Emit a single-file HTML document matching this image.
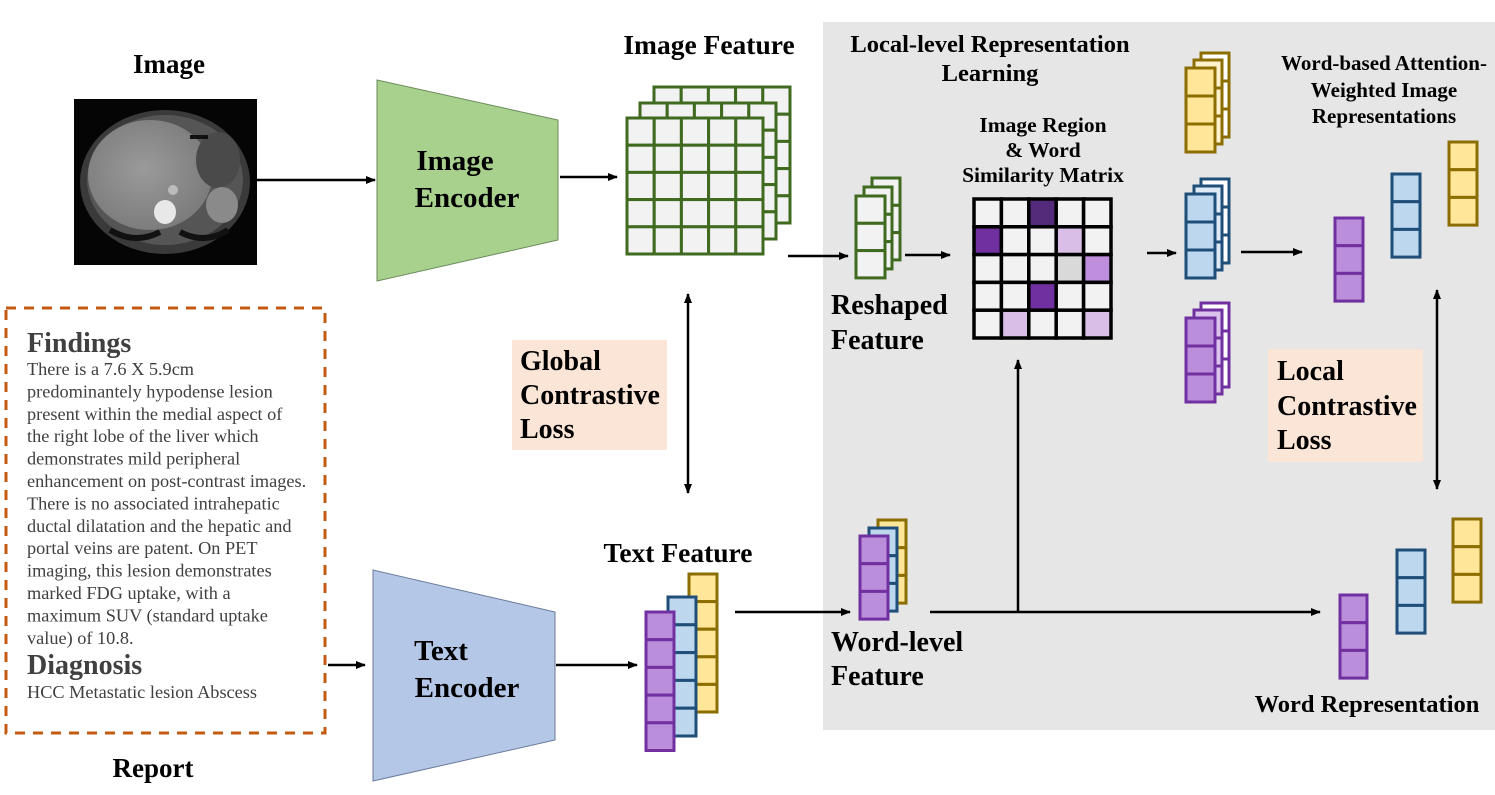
<!DOCTYPE html>
<html><head><meta charset="utf-8"><style>
html,body{margin:0;padding:0;background:#fff;}
svg{display:block;font-family:"Liberation Serif",serif;}
.t{font-weight:bold;fill:#000;}
.r{fill:#404040;font-size:18.3px;}
</style></head><body>
<svg id="s" width="1495" height="795" viewBox="0 0 1495 795" xmlns="http://www.w3.org/2000/svg">
<defs>
<marker id="a" markerWidth="10" markerHeight="8" refX="9" refY="4" orient="auto" markerUnits="userSpaceOnUse"><path d="M0,0 L10,4 L0,8 Z" fill="#000"/></marker>
<marker id="b" markerWidth="10" markerHeight="8" refX="1" refY="4" orient="auto" markerUnits="userSpaceOnUse"><path d="M10,0 L0,4 L10,8 Z" fill="#000"/></marker>
<radialGradient id="liv" cx="0.45" cy="0.45" r="0.6"><stop offset="0" stop-color="#9a9a9a"/><stop offset="1" stop-color="#7a7a7a"/></radialGradient>
</defs>
<rect x="823" y="22" width="672" height="708" fill="#e6e6e6"/>
<!-- CT image -->
<rect x="74" y="99" width="183" height="166" fill="#050505"/>
<ellipse cx="165" cy="182" rx="85" ry="72" fill="#3a3a3a"/>
<ellipse cx="165" cy="180" rx="78" ry="65" fill="#555"/>
<ellipse cx="150" cy="175" rx="62" ry="55" fill="url(#liv)"/>
<ellipse cx="218" cy="160" rx="22" ry="28" fill="#4a4a4a"/>
<ellipse cx="222" cy="205" rx="16" ry="18" fill="#8a8a8a"/>
<ellipse cx="165" cy="212" rx="11" ry="12" fill="#e8e8e8"/>
<circle cx="173" cy="190" r="5" fill="#bbb"/>
<path d="M110 230 Q135 245 160 232 M180 232 Q205 245 228 230" stroke="#111" stroke-width="6" fill="none"/>
<rect x="190" y="135" width="18" height="4" fill="#111"/>
<!-- encoders -->
<polygon points="377,80 558,120 558,240 377,281" fill="#a9d18e" stroke="#6a8a5a" stroke-width="1"/>
<text class="t" x="455" y="170" font-size="29" text-anchor="middle">Image</text>
<text class="t" x="467" y="207" font-size="29" text-anchor="middle">Encoder</text>
<polygon points="373,570 555,612 555,740 373,781" fill="#b4c7e7" stroke="#6a7a9a" stroke-width="1"/>
<text class="t" x="441" y="660" font-size="29" text-anchor="middle">Text</text>
<text class="t" x="467" y="697" font-size="29" text-anchor="middle">Encoder</text>
<!-- labels -->
<text class="t" x="169" y="73" font-size="27" text-anchor="middle">Image</text>
<text class="t" x="709" y="54" font-size="27.5" text-anchor="middle">Image Feature</text>
<text class="t" x="990" y="52" font-size="24.5" text-anchor="middle">Local-level Representation</text>
<text class="t" x="990" y="81" font-size="24.5" text-anchor="middle">Learning</text>
<text class="t" x="1043" y="132" font-size="21.5" text-anchor="middle">Image Region</text>
<text class="t" x="1043" y="157" font-size="21.5" text-anchor="middle">&amp; Word</text>
<text class="t" x="1043" y="182" font-size="21.5" text-anchor="middle">Similarity Matrix</text>
<text class="t" x="1384" y="70" font-size="21" text-anchor="middle">Word-based Attention-</text>
<text class="t" x="1384" y="97" font-size="21" text-anchor="middle">Weighted Image</text>
<text class="t" x="1384" y="123" font-size="21" text-anchor="middle">Representations</text>
<text class="t" x="831" y="314" font-size="28">Reshaped</text>
<text class="t" x="831" y="349" font-size="28">Feature</text>
<text class="t" x="678" y="562" font-size="27.5" text-anchor="middle">Text Feature</text>
<text class="t" x="831" y="651" font-size="28">Word-level</text>
<text class="t" x="831" y="685" font-size="28">Feature</text>
<text class="t" x="1367" y="712" font-size="24.5" text-anchor="middle">Word Representation</text>
<text class="t" x="153" y="777" font-size="27" text-anchor="middle">Report</text>
<!-- loss boxes -->
<rect x="512" y="340" width="155" height="110" fill="#fbe5d6"/>
<text class="t" x="520" y="370" font-size="28">Global</text>
<text class="t" x="520" y="404" font-size="28">Contrastive</text>
<text class="t" x="520" y="438" font-size="28">Loss</text>
<rect x="1268" y="349" width="155" height="113" fill="#fbe5d6"/>
<text class="t" x="1277" y="380" font-size="28">Local</text>
<text class="t" x="1277" y="415" font-size="28">Contrastive</text>
<text class="t" x="1277" y="449" font-size="28">Loss</text>
<!-- report -->
<rect x="6" y="308" width="319" height="425" fill="none" stroke="#c55a11" stroke-width="3" stroke-dasharray="10,8"/>
<text x="27" y="352" font-size="28" font-weight="bold" fill="#404040">Findings</text>
<text class="r" x="27" y="375">There is a 7.6 X 5.9cm</text>
<text class="r" x="27" y="397.4">predominantely hypodense lesion</text>
<text class="r" x="27" y="419.8">present within the medial aspect of</text>
<text class="r" x="27" y="442.2">the right lobe of the liver which</text>
<text class="r" x="27" y="464.6">demonstrates mild peripheral</text>
<text class="r" x="27" y="487">enhancement on post-contrast images.</text>
<text class="r" x="27" y="509.4">There is no associated intrahepatic</text>
<text class="r" x="27" y="531.8">ductal dilatation and the hepatic and</text>
<text class="r" x="27" y="554.2">portal veins are patent. On PET</text>
<text class="r" x="27" y="576.6">imaging, this lesion demonstrates</text>
<text class="r" x="27" y="599">marked FDG uptake, with a</text>
<text class="r" x="27" y="621.4">maximum SUV (standard uptake</text>
<text class="r" x="27" y="643.8">value) of 10.8.</text>
<text x="27" y="674" font-size="28" font-weight="bold" fill="#404040">Diagnosis</text>
<text class="r" x="27" y="698">HCC Metastatic lesion Abscess</text>
<!-- arrows -->
<g stroke="#000" stroke-width="2.5" fill="none">
<line x1="257" y1="180" x2="375" y2="180" marker-end="url(#a)"/>
<line x1="560" y1="177" x2="617" y2="177" marker-end="url(#a)"/>
<line x1="788" y1="256" x2="848" y2="256" marker-end="url(#a)"/>
<line x1="905" y1="255" x2="950" y2="255" marker-end="url(#a)"/>
<line x1="1147" y1="253" x2="1176" y2="253" marker-end="url(#a)"/>
<line x1="1241" y1="252" x2="1302" y2="252" marker-end="url(#a)"/>
<line x1="688" y1="294" x2="688" y2="493" marker-start="url(#b)" marker-end="url(#a)"/>
<line x1="1437" y1="290" x2="1437" y2="489" marker-start="url(#b)" marker-end="url(#a)"/>
<line x1="328" y1="665" x2="365" y2="665" marker-end="url(#a)"/>
<line x1="556" y1="665" x2="637" y2="665" marker-end="url(#a)"/>
<line x1="735" y1="612" x2="850" y2="612" marker-end="url(#a)"/>
<line x1="930" y1="612" x2="1320" y2="612" marker-end="url(#a)"/>
<line x1="1018" y1="612" x2="1018" y2="360" marker-end="url(#a)"/>
</g>
<g id="g"></g>
</svg>
<script>
var g=document.getElementById('g'),NS='http://www.w3.org/2000/svg';
function R(x,y,w,h,f,s,sw){var r=document.createElementNS(NS,'rect');r.setAttribute('x',x);r.setAttribute('y',y);r.setAttribute('width',w);r.setAttribute('height',h);r.setAttribute('fill',f);r.setAttribute('stroke',s);r.setAttribute('stroke-width',sw||3);g.appendChild(r);}
function col(x,y,w,ch,n,f,s){for(var i=0;i<n;i++)R(x,y+i*ch,w,ch,f,s);}
function grid(x,y,c,n,f,s){for(var i=0;i<n;i++)for(var j=0;j<n;j++)R(x+j*c,y+i*c,c,c,f,s);}
var GR='#3f6a1f',GF='#f2f2f2';
grid(654,87,27.2,5,GF,GR);grid(640,103,27.2,5,GF,GR);grid(627,118,27.2,5,GF,GR);
col(872,178,28,27.3,3,GF,GR);col(864,187,28,27.3,3,GF,GR);col(856,196,29,27.3,3,GF,GR);
var M=[[0,0,'#542a7a',0,0],['#7030a0',0,0,'#d9bfe8',0],[0,0,0,'#d9d9d9','#bf8fdd'],[0,0,'#7030a0',0,0],[0,'#d9bfe8',0,0,'#d9bfe8']];
for(var i=0;i<5;i++)for(var j=0;j<5;j++)R(974+j*27.4,199+i*27.8,27.4,27.8,M[i][j]||'#f2f2f2','#000',3.5);
var Y='#ffe699',YS='#8c6d00',B='#bdd7ee',BS='#1f4e79',P='#bb8edb',PS='#7030a0';
function stk(x,y,f,fl,s){col(x+15,y-15,28,28,3,'#fff',s);col(x+8,y-8,28,28,3,fl,s);col(x,y,29,28,3,f,s);}
stk(1186,68,Y,'#fff2cc',YS);stk(1186,194,B,'#deebf7',BS);stk(1186,318,P,'#dcc3ee',PS);
col(1335,218,28,27.7,3,P,PS);col(1392,174,28,27.7,3,B,BS);col(1449,142,28,27.7,3,Y,YS);
col(1340,595,27,27.7,3,P,PS);col(1397,550,28,27.7,3,B,BS);col(1453,519,28,27.7,3,Y,YS);
col(878,520,28,27.7,3,Y,YS);col(869,528,28,27.7,3,B,BS);col(860,536,28,27.7,3,P,PS);
col(689,574,28,27.6,5,Y,YS);col(668,597,28,27.8,5,B,BS);col(646,612,28,27.7,5,P,PS);
</script>
</body></html>
